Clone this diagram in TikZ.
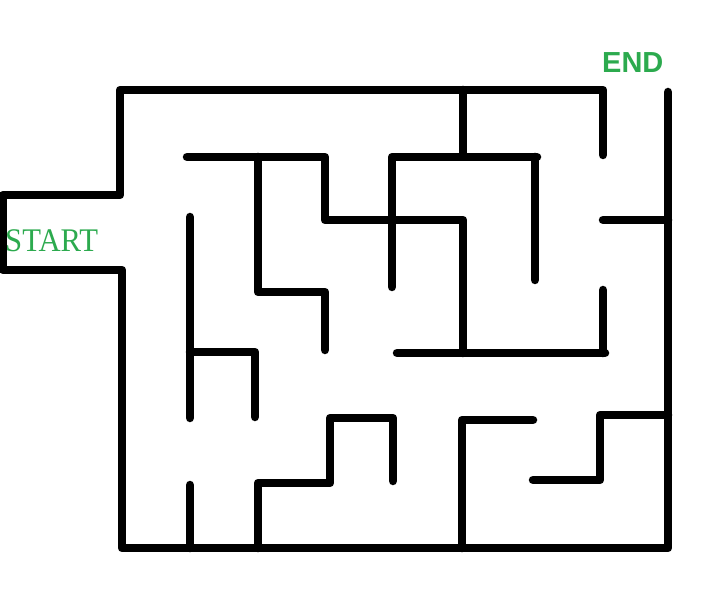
\documentclass[tikz,border=0pt]{standalone}
\usepackage{fontspec}
\newfontfamily\endfont{Liberation Sans}
\newfontfamily\startfont{Liberation Serif}
\definecolor{mazegreen}{RGB}{44,170,78}
\begin{document}
\begin{tikzpicture}[x=1pt,y=-1pt,
  wall/.style={line width=8.5pt,line cap=round,line join=round,black},
  lbl/.style={inner sep=0pt,text=mazegreen}]
\useasboundingbox (0,0) rectangle (701,601);
% outer boundary
\draw[wall] (603,155) -- (603,90) -- (120,90) -- (120,195) -- (3,195) -- (3,270) -- (122,270) -- (122,548) -- (668,548) -- (668,92);
% top walls
\draw[wall] (463,90) -- (463,155);
\draw[wall] (187,157) -- (325,157) -- (325,220) -- (463,220) -- (463,353);
\draw[wall] (397,353) -- (605,353);
\draw[wall] (603,290) -- (603,353);
\draw[wall] (258,157) -- (258,292) -- (325,292) -- (325,350);
\draw[wall] (392,287) -- (392,157) -- (537,157);
\draw[wall] (535,157) -- (535,280);
\draw[wall] (603,220) -- (668,220);
% left walls
\draw[wall] (190,217) -- (190,418);
\draw[wall] (190,352) -- (255,352) -- (255,417);
\draw[wall] (190,485) -- (190,548);
% bottom walls
\draw[wall] (258,548) -- (258,483) -- (330,483) -- (330,418) -- (393,418) -- (393,481);
\draw[wall] (462,548) -- (462,420) -- (533,420);
\draw[wall] (533,480) -- (600,480) -- (600,415) -- (668,415);
% labels
\node[lbl,anchor=base west,xscale=0.93,font=\startfont\fontsize{33}{33}\selectfont] (start) at (5,252) {START};
\node[lbl,anchor=base west,font=\endfont\bfseries\fontsize{29}{29}\selectfont] (end) at (602,73) {END};
\end{tikzpicture}
\end{document}
